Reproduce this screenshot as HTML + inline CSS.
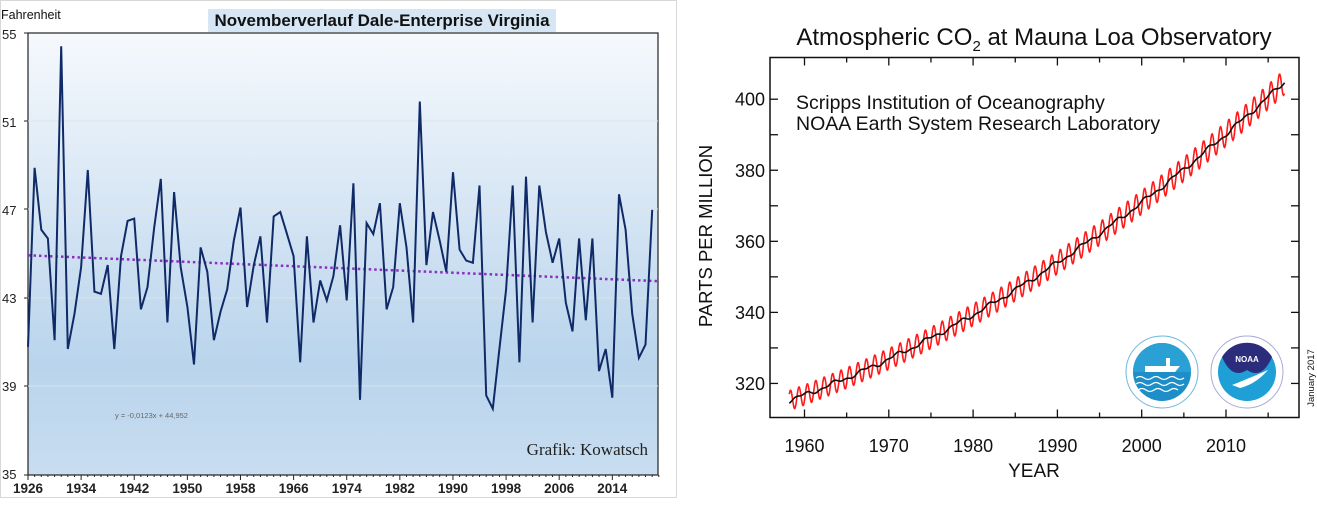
<!DOCTYPE html>
<html><head><meta charset="utf-8"><style>
body{margin:0;background:#fff;width:1317px;height:528px;overflow:hidden}
svg{display:block}
</style></head><body>
<svg id="s" width="1317" height="528" xmlns="http://www.w3.org/2000/svg" font-family="Liberation Sans, sans-serif">
<defs>
<linearGradient id="bg" x1="0" y1="0" x2="0" y2="1">
<stop offset="0" stop-color="#f6f9fd"/><stop offset="0.75" stop-color="#b9d4ec"/><stop offset="1" stop-color="#c8ddf0"/>
</linearGradient>
</defs>
<rect x="0.5" y="0.5" width="676" height="497" fill="#fff" stroke="#d8d8d8"/>
<rect x="28" y="33" width="630" height="442" fill="url(#bg)" stroke="#222" stroke-width="1.2"/>
<g stroke="#dde3ea" stroke-width="1">
<line x1="28" y1="121" x2="658" y2="121"/><line x1="28" y1="209" x2="658" y2="209"/><line x1="28" y1="298" x2="658" y2="298"/><line x1="28" y1="386" x2="658" y2="386"/>
</g>
<rect x="208" y="9" width="348" height="23" fill="#d6e6f5"/>
<text x="382" y="26" text-anchor="middle" font-weight="bold" font-size="16.5" fill="#111" textLength="335" lengthAdjust="spacingAndGlyphs">Novemberverlauf Dale-Enterprise Virginia</text>
<text x="1" y="19" font-size="12.5" fill="#111">Fahrenheit</text>
<g font-size="13" fill="#222" text-anchor="start">
<text x="2" y="39">55</text><text x="2" y="127">51</text><text x="2" y="215">47</text><text x="2" y="303">43</text><text x="2" y="391">39</text><text x="2" y="479">35</text>
</g>
<g id="lx" font-size="13.5" font-weight="bold" fill="#222" text-anchor="middle"></g>
<g id="lt" stroke="#222"></g>
<line id="trend" stroke="#8a2fc0" stroke-width="2.5" stroke-dasharray="2.5,3"/>
<polyline id="temp" fill="none" stroke="#0f2a66" stroke-width="2"/>
<text x="115" y="418" font-size="7.5" fill="#666">y = -0,0123x + 44,952</text>
<text x="648" y="455" text-anchor="end" font-family="Liberation Serif, serif" font-size="17" fill="#222">Grafik: Kowatsch</text>

<!-- right chart -->
<text x="1034" y="45" text-anchor="middle" font-size="24" fill="#111">Atmospheric CO<tspan font-size="15" dy="6">2</tspan><tspan dy="-6"> at Mauna Loa Observatory</tspan></text>
<text x="796" y="109" font-size="19.5" fill="#111">Scripps Institution of Oceanography</text>
<text x="796" y="130" font-size="19.5" fill="#111">NOAA Earth System Research Laboratory</text>
<g id="rt" stroke="#111" stroke-width="1.3"></g>
<g id="rl" font-size="18" fill="#111"></g>
<text transform="translate(712,236) rotate(-90)" text-anchor="middle" font-size="18.5" fill="#111">PARTS PER MILLION</text>
<text x="1034" y="477" text-anchor="middle" font-size="19" fill="#111">YEAR</text>
<text transform="translate(1314,378) rotate(-90)" text-anchor="middle" font-size="9.5" fill="#111">January 2017</text>
<polyline id="red" fill="none" stroke="#ff1a1a" stroke-width="1.6"/>
<polyline id="blk" fill="none" stroke="#111" stroke-width="1.6"/>
<rect x="770" y="57.5" width="529" height="360" fill="none" stroke="#111" stroke-width="1.5"/>
<!-- logos -->
<circle cx="1162" cy="372" r="36" fill="#fff" stroke="#6fb6dc" stroke-width="1"/>
<circle cx="1162" cy="372" r="29" fill="#1e8ec8"/>
<path d="M1133 372 A29 29 0 0 1 1191 372 Z" fill="#2aa0d4"/>
<g stroke="#fff" stroke-width="1.2" fill="none"><path d="M1136 378 q4 -3 8 0 t8 0 t8 0 t8 0 t8 0 t8 0"/><path d="M1136 384 q4 -3 8 0 t8 0 t8 0 t8 0 t8 0 t8 0"/><path d="M1138 390 q4 -3 8 0 t8 0 t8 0 t8 0 t8 0"/></g>
<path d="M1145 372 l30 0 l5 -6 l-10 0 l0 -8 l-4 0 l0 8 l-21 0 Z" fill="#fff"/>
<circle cx="1247" cy="372" r="36" fill="#fff" stroke="#a9a9d8" stroke-width="1"/>
<circle cx="1247" cy="372" r="29" fill="#1e9fd6"/>
<path d="M1222 357 A29 29 0 0 1 1272 357 Q1262 380 1247 370 Q1232 380 1222 357 Z" fill="#2b2c7c"/>
<text x="1247" y="362" text-anchor="middle" font-size="8" font-weight="bold" fill="#fff">NOAA</text>
<path d="M1232 385 Q1250 378 1268 370 Q1256 384 1240 388 Z" fill="#fff"/>
</svg>
<script>
var NS="http://www.w3.org/2000/svg";
function el(p,t,a,txt){var e=document.createElementNS(NS,t);for(var k in a)e.setAttribute(k,a[k]);if(txt!==undefined)e.textContent=txt;document.getElementById(p).appendChild(e);return e;}
var d=[40.8,48.9,46.1,45.7,41.1,54.4,40.7,42.3,44.4,48.8,43.3,43.2,44.5,40.7,44.9,46.5,46.6,42.5,43.5,46.2,48.4,41.9,47.8,44.4,42.6,40.0,45.3,44.2,41.1,42.4,43.4,45.6,47.1,42.6,44.5,45.8,41.9,46.7,46.9,45.9,44.9,40.1,45.8,41.9,43.8,42.9,44.0,46.3,42.9,48.2,38.4,46.4,45.9,47.3,42.5,43.5,47.3,45.3,41.9,51.9,44.5,46.9,45.6,44.2,48.7,45.2,44.7,44.6,48.1,38.6,38.0,40.7,43.4,48.1,40.1,48.5,41.9,48.1,46.0,44.6,45.7,42.8,41.5,45.7,42.0,45.7,39.7,40.7,38.5,47.7,46.1,42.3,40.3,40.9,47.0];
function LX(i){return 28+i*6.64;}function LY(v){return 33+(55-v)*22.1;}
var p=d.map(function(v,i){return LX(i).toFixed(1)+","+LY(v).toFixed(1)}).join(" ");
document.getElementById("temp").setAttribute("points",p);
var t=document.getElementById("trend");t.setAttribute("x1",28);t.setAttribute("y1",LY(44.94));t.setAttribute("x2",658);t.setAttribute("y2",LY(44.952-0.0123*96));
for(var y=1926;y<=2018;y+=8){el("lx","text",{x:LX(y-1926),y:493},String(y));}
for(var i=0;i<=95;i++){el("lt","line",{x1:LX(i),y1:475,x2:LX(i),y2:(i%8==0?480:477)});}
[33,121,209,298,386,475].forEach(function(yy){el("lt","line",{x1:24,y1:yy,x2:28,y2:yy});});
function RX(y){return 804.5+(y-1960)*8.43;}function RY(v){return 99.2+(400-v)*3.553;}
for(var v=320;v<=400;v+=10){var yy=RY(v);el("rt","line",{x1:770,y1:yy,x2:778,y2:yy});el("rt","line",{x1:1291,y1:yy,x2:1299,y2:yy});if(v%20==0)el("rl","text",{x:765,y:yy+6.5,"text-anchor":"end"},String(v));}
for(var y=1960;y<=2015;y+=5){var xx=RX(y);var L=(y%10==0)?8:5;el("rt","line",{x1:xx,y1:57.5,x2:xx,y2:57.5+L});el("rt","line",{x1:xx,y1:417.5,x2:xx,y2:417.5-L});if(y%10==0)el("rl","text",{x:xx,y:452,"text-anchor":"middle"},String(y));}
function tr(t){var s=t-1958;return 315+0.855*s+0.01136*s*s;}
var rp=[],bp=[];
for(var t=1958.2;t<=2016.95;t+=1/24){var amp=2.8+0.012*(t-1958);var c=tr(t)+amp*Math.sin(2*Math.PI*(t-0.12)+0.2);rp.push(RX(t).toFixed(1)+","+RY(c).toFixed(1));}
for(var t=1958.2;t<=2016.95;t+=1/12){var c=tr(t)+0.5*Math.sin(t*1.7)+0.3*Math.sin(t*4.1);bp.push(RX(t).toFixed(1)+","+RY(c).toFixed(1));}
document.getElementById("red").setAttribute("points",rp.join(" "));
document.getElementById("blk").setAttribute("points",bp.join(" "));
</script>
</body></html>
